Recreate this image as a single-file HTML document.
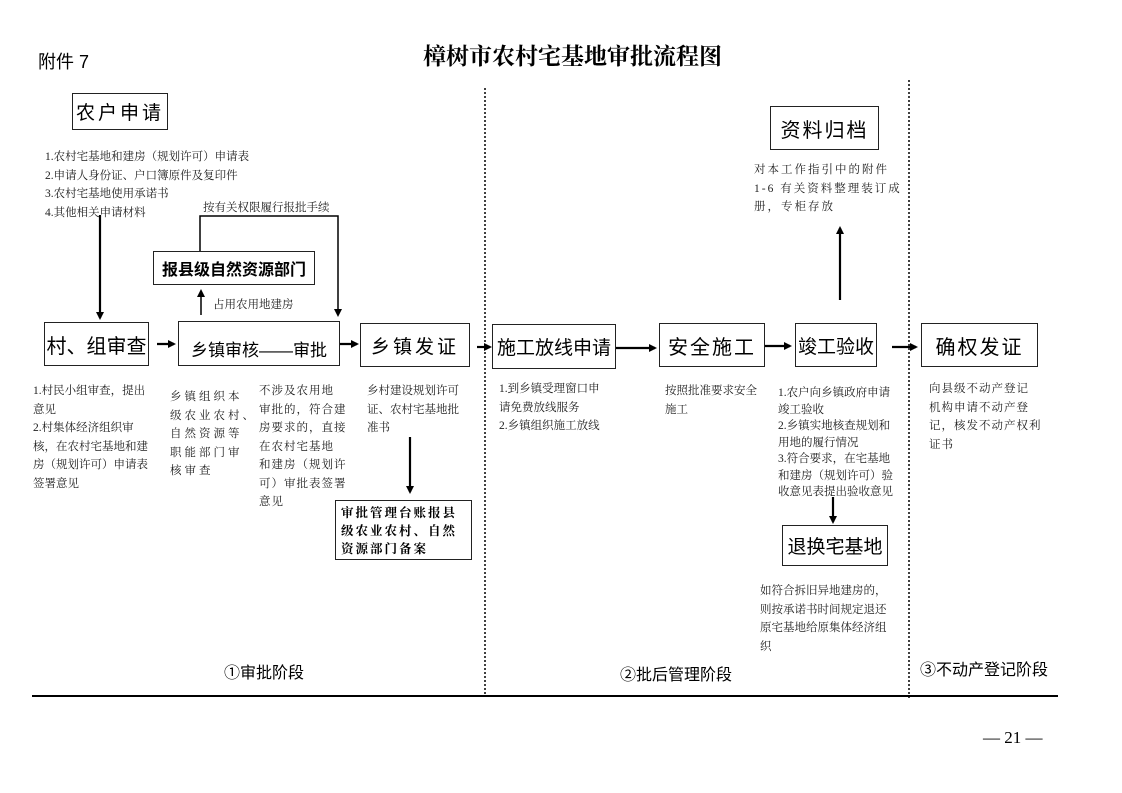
<!DOCTYPE html>
<html><head><meta charset="utf-8"><style>
body{margin:0;width:1122px;height:793px;background:#fff;position:relative;overflow:hidden;font-family:"Liberation Serif","Noto Serif CJK SC",serif;color:#000}
.a{position:absolute}
.box{position:absolute;border:1.5px solid #222;box-sizing:border-box;display:flex;align-items:center;justify-content:center;font-family:"Liberation Sans","Noto Sans CJK SC",sans-serif;font-size:19px;background:#fff}
.t{position:absolute;font-size:11.5px;line-height:18.5px;color:#222;white-space:nowrap}
.ph{position:absolute;font-family:"Liberation Sans","Noto Sans CJK SC",sans-serif;font-size:16px}
</style></head><body>
<div class="a" style="left:38px;top:48px;font-size:18px;font-family:'Liberation Sans','Noto Sans CJK SC',sans-serif">附件 7</div>
<div class="a" style="left:0;width:1145px;top:38px;text-align:center;font-size:23px;font-weight:bold;font-family:'Liberation Serif','Noto Serif CJK SC',serif">樟树市农村宅基地审批流程图</div>

<svg class="a" style="left:0;top:0" width="1122" height="793">
<defs><marker id="ar" markerWidth="8" markerHeight="8" refX="6" refY="4" orient="auto" markerUnits="userSpaceOnUse"><path d="M0,0 L8,4 L0,8 z" fill="#000"/></marker></defs>
<g stroke="#000" stroke-width="2.2" fill="none">
<line x1="485" y1="88" x2="485" y2="695" stroke-dasharray="2,2" stroke-width="1.5"/>
<line x1="909" y1="80" x2="909" y2="700" stroke-dasharray="2,2" stroke-width="1.5"/>
<line x1="32" y1="696" x2="1058" y2="696" stroke-width="2"/>
<line x1="100" y1="215" x2="100" y2="318" marker-end="url(#ar)"/>
<line x1="157" y1="344" x2="174" y2="344" marker-end="url(#ar)"/>
<line x1="340" y1="344" x2="357" y2="344" marker-end="url(#ar)"/>
<line x1="477" y1="347" x2="490" y2="347" marker-end="url(#ar)"/>
<line x1="610" y1="348" x2="655" y2="348" marker-end="url(#ar)"/>
<line x1="755" y1="346" x2="790" y2="346" marker-end="url(#ar)"/>
<line x1="892" y1="347" x2="916" y2="347" marker-end="url(#ar)"/>
<line x1="840" y1="300" x2="840" y2="228" marker-end="url(#ar)"/>
<line x1="833" y1="497" x2="833" y2="522" marker-end="url(#ar)"/>
<line x1="410" y1="437" x2="410" y2="492" marker-end="url(#ar)"/>
<line x1="201" y1="315" x2="201" y2="291" marker-end="url(#ar)" stroke-width="1.5"/>
<polyline points="200,251 200,216 338,216 338,315" stroke-width="1.5" marker-end="url(#ar)"/>
</g></svg>

<div class="box" style="left:72px;top:93px;width:96px;height:37px;letter-spacing:3px">农户申请</div>
<div class="box" style="left:153px;top:251px;width:162px;height:34px;font-size:16px;font-weight:bold">报县级自然资源部门</div>
<div class="box" style="left:44px;top:322px;width:105px;height:44px;font-size:20px">村、组审查</div>
<div class="box" style="left:178px;top:321px;width:162px;height:45px;font-size:17px;padding-top:10px">乡镇审核——审批</div>
<div class="box" style="left:360px;top:323px;width:110px;height:44px;font-size:19px;letter-spacing:3px">乡镇发证</div>
<div class="box" style="left:335px;top:500px;width:137px;height:60px;font-size:12.5px;font-weight:bold;justify-content:flex-start;align-items:flex-start;padding:3px 5px;line-height:18px;letter-spacing:2px;font-family:'Liberation Serif','Noto Serif CJK SC',serif">审批管理台账报县级农业农村、自然资源部门备案</div>
<div class="box" style="left:492px;top:324px;width:124px;height:45px;font-size:19px">施工放线申请</div>
<div class="box" style="left:659px;top:323px;width:106px;height:44px;font-size:20px;letter-spacing:2px">安全施工</div>
<div class="box" style="left:795px;top:323px;width:82px;height:44px;font-size:19px">竣工验收</div>
<div class="box" style="left:921px;top:323px;width:117px;height:44px;font-size:20px;letter-spacing:2px">确权发证</div>
<div class="box" style="left:770px;top:106px;width:109px;height:44px;font-size:20px;letter-spacing:2px">资料归档</div>
<div class="box" style="left:782px;top:525px;width:106px;height:41px;font-size:19px">退换宅基地</div>

<div class="t" style="left:45px;top:148px">1.农村宅基地和建房（规划许可）申请表<br>2.申请人身份证、户口簿原件及复印件<br>3.农村宅基地使用承诺书<br>4.其他相关申请材料</div>
<div class="t" style="left:203px;top:199px">按有关权限履行报批手续</div>
<div class="t" style="left:213px;top:296px">占用农用地建房</div>
<div class="t" style="left:33px;top:382px">1.村民小组审查，提出<br>意见<br>2.村集体经济组织审<br>核，在农村宅基地和建<br>房（规划许可）申请表<br>签署意见</div>
<div class="t" style="left:170px;top:388px;letter-spacing:3px">乡镇组织本<br>级农业农村、<br>自然资源等<br>职能部门审<br>核审查</div>
<div class="t" style="left:259px;top:382px;letter-spacing:1px">不涉及农用地<br>审批的，符合建<br>房要求的，直接<br>在农村宅基地<br>和建房（规划许<br>可）审批表签署<br>意见</div>
<div class="t" style="left:367px;top:382px">乡村建设规划许可<br>证、农村宅基地批<br>准书</div>
<div class="t" style="left:499px;top:380px">1.到乡镇受理窗口申<br>请免费放线服务<br>2.乡镇组织施工放线</div>
<div class="t" style="left:665px;top:382px">按照批准要求安全<br>施工</div>
<div class="t" style="left:754px;top:161px;letter-spacing:2px">对本工作指引中的附件<br>1-6 有关资料整理装订成<br>册，专柜存放</div>
<div class="t" style="left:778px;top:385px;line-height:16.5px">1.农户向乡镇政府申请<br>竣工验收<br>2.乡镇实地核查规划和<br>用地的履行情况<br>3.符合要求，在宅基地<br>和建房（规划许可）验<br>收意见表提出验收意见</div>
<div class="t" style="left:760px;top:582px">如符合拆旧异地建房的，<br>则按承诺书时间规定退还<br>原宅基地给原集体经济组<br>织</div>
<div class="t" style="left:929px;top:380px;letter-spacing:1px">向县级不动产登记<br>机构申请不动产登<br>记，核发不动产权利<br>证书</div>

<div class="ph" style="left:224px;top:659px">①审批阶段</div>
<div class="ph" style="left:620px;top:661px">②批后管理阶段</div>
<div class="ph" style="left:920px;top:656px">③不动产登记阶段</div>
<div class="a" style="left:983px;top:728px;font-size:17px">— 21 —</div>
</body></html>
